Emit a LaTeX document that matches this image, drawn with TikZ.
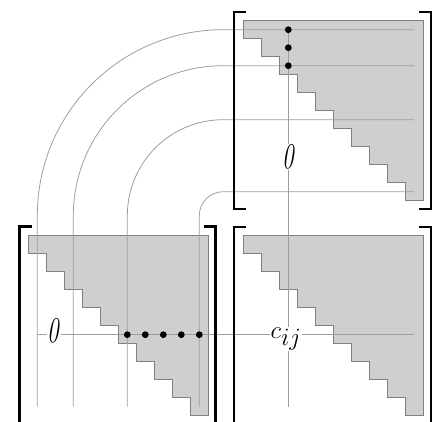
\documentclass[tikz,border=0pt]{standalone}
\usepackage{graphicx}
\begin{document}
\begin{tikzpicture}[x=1pt,y=-1pt,
  gridln/.style={draw=black!38, line width=0.8pt},
  tri/.style={fill=black!19, draw=black!50, line width=0.8pt},
  brk/.style={line width=2.4pt, line join=miter},
  dotn/.style={circle, fill=black, inner sep=0pt, minimum size=6.8pt},
  lbl/.style={fill=white, inner sep=0.5pt, font=\fontsize{29}{30}\selectfont},
  stair/.pic={\path[tri] (0,0) -- (180,0) -- (180,180)
      \foreach \k in {9,...,0}{ -| ({18*\k},{18*\k}) } -- cycle;}
]
\useasboundingbox (0,0) rectangle (432,422);
\clip (0,0) rectangle (432,422);
\newcommand\mybrk[4]{%
  \draw[brk] ({#1+12},#2) -- (#1,#2) -- (#1,#4) -- ({#1+12},#4);
  \draw[brk] ({#3-12},#2) -- (#3,#2) -- (#3,#4) -- ({#3-12},#4);}
% shaded triangles
\pic at (243.3,20.7) {stair};
\pic at (28.3,235.7) {stair};
\pic at (243.3,235.7) {stair};
% named points
\coordinate (b0) at (37.3,406.7);  \coordinate (t0) at (414.3,29.7);
\coordinate (b2) at (73.3,406.7);  \coordinate (t2) at (414.3,65.7);
\coordinate (b5) at (127.3,406.7); \coordinate (t5) at (414.3,119.7);
\coordinate (b9) at (199.3,406.7); \coordinate (t9) at (414.3,191.7);
\coordinate (vtop) at (288.3,29.7); \coordinate (vbot) at (288.3,406.7);
\coordinate (hl) at (37.3,334.7);   \coordinate (hr) at (414.3,334.7);
% bent lines
\draw[gridln] (b0) -- (37.3,215.7) arc[start angle=180,end angle=270,radius=186] -- (t0);
\draw[gridln] (b2) -- (73.3,215.7) arc[start angle=180,end angle=270,radius=150] -- (t2);
\draw[gridln] (b5) -- (127.3,215.7) arc[start angle=180,end angle=270,radius=96] -- (t5);
\draw[gridln] (b9) -- (199.3,215.7) arc[start angle=180,end angle=270,radius=24] -- (t9);
\draw[gridln] (vtop) -- (vbot);
\draw[gridln] (hl) -- (hr);
% dots
\node[dotn] (d1) at (288.3,29.7) {};
\node[dotn] (d2) at (288.3,47.7) {};
\node[dotn] (d3) at (288.3,65.7) {};
\foreach \i/\x in {4/127.3,5/145.3,6/163.3,7/181.3,8/199.3}
  \node[dotn] (d\i) at (\x,334.7) {};
% labels
\node[lbl] (z1) at (288.3,157) {\scalebox{0.8}[1.25]{\textit{0}}};
\node[lbl] (z2) at (54,331) {\scalebox{0.8}[1.25]{\textit{0}}};
\node[lbl, font=\fontsize{34}{36}\selectfont] (cij) at (286,339) {$c_{ij}$};
% brackets
\mybrk{234}{12}{431}{209.3}
\mybrk{19.5}{226.7}{215.5}{440}
\mybrk{234}{227}{431}{440}
\end{tikzpicture}
\end{document}
